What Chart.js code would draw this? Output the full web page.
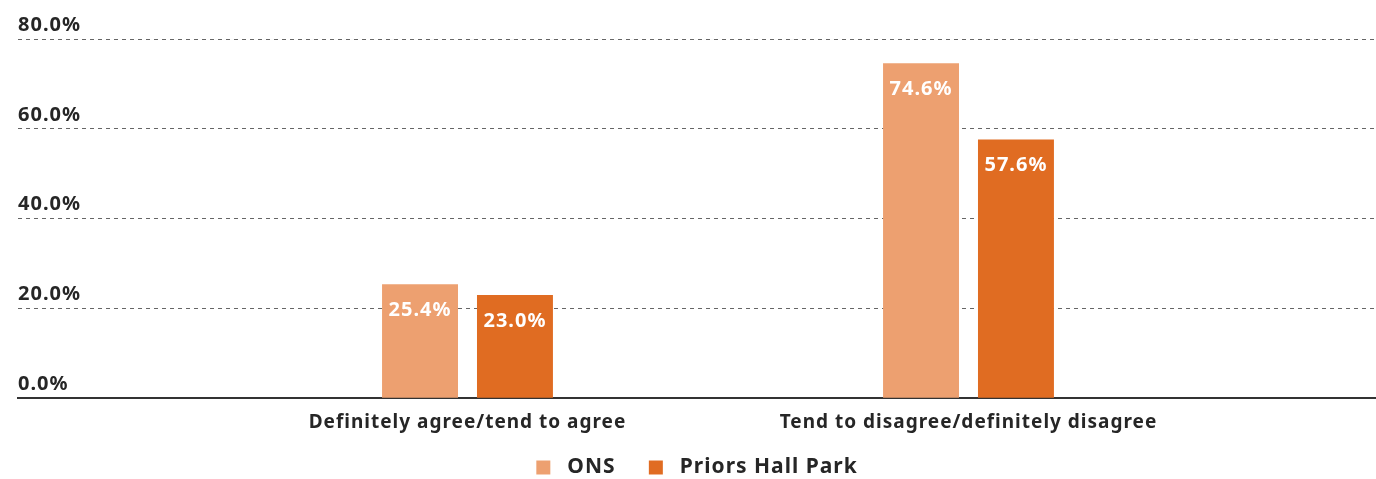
<!DOCTYPE html>
<html>
<head>
<meta charset="utf-8">
<script src="https://cdn.jsdelivr.net/npm/chart.js@4"></script>
<style>
  html, body { margin: 0; padding: 0; background: #fff; }
  #wrap { width: 1376px; height: 479px; }
</style>
</head>
<body>
<div id="wrap"><canvas id="surveyChart"></canvas></div>
<script>
// Data
const categories = ['Definitely agree/tend to agree', 'Tend to disagree/definitely disagree'];
const onsValues = [25.4, 74.6];
const priorsValues = [23.0, 57.6];
const yTicks = [0, 20, 40, 60, 80];

const FONT = "'Noto Sans', 'Open Sans', sans-serif";
Chart.defaults.font.family = FONT;
Chart.defaults.font.weight = 'bold';
Chart.defaults.color = '#262626';

// the original font is a bit wider than Noto Sans
const spacing = {
    id: 'spacing',
    beforeLayout(chart) { chart.ctx.letterSpacing = '1px'; },
    beforeDraw(chart) { chart.ctx.letterSpacing = '1px'; }
};

// Labels inside the bars
const barLabels = {
    id: 'barLabels',
    afterDatasetsDraw(chart) {
        const ctx = chart.ctx;
        ctx.save();
        ctx.fillStyle = '#ffffff';
        ctx.font = 'bold 20px ' + FONT;
        ctx.textAlign = 'center';
        ctx.textBaseline = 'middle';
        chart.data.datasets.forEach((ds, i) => {
            chart.getDatasetMeta(i).data.forEach((bar, j) => {
                ctx.fillText(ds.data[j].y.toFixed(1) + '%', bar.x, bar.y + 26);
            });
        });
        ctx.restore();
    }
};

const toPoints = vals => vals.map((v, i) => ({ x: i + 1, y: v }));

const ctx = document.getElementById('surveyChart').getContext('2d');
new Chart(ctx, {
    type: 'bar',
    data: {
        datasets: [{
            label: 'ONS',
            data: toPoints(onsValues),
            backgroundColor: '#eda070'
        }, {
            label: 'Priors Hall Park',
            data: toPoints(priorsValues),
            backgroundColor: '#e06c22'
        }]
    },
    options: {
        responsive: true,
        maintainAspectRatio: false,
        animation: false,
        barPercentage: 0.8,
        categoryPercentage: 0.379,
        layout: { padding: { left: 18, right: 0, top: 39, bottom: -9 } },
        plugins: {
            legend: {
                position: 'bottom',
                labels: {
                    boxWidth: 14,
                    boxHeight: 14,
                    padding: 1,
                    font: { size: 21, weight: 'bold' },
                    generateLabels: chart => Chart.defaults.plugins.legend.labels.generateLabels(chart)
                        .map((l, i) => ({ ...l, text: ' ' + l.text + (i === 0 ? '     ' : '') }))
                }
            },
            tooltip: { enabled: false }
        },
        scales: {
            x: {
                type: 'linear',
                offset: false,
                min: 0.1028,
                max: 2.8134,
                afterBuildTicks: s => { s.ticks = categories.map((c, i) => ({ value: i + 1 })); },
                afterFit: s => { s.height += 9; },
                grid: { display: false, drawTicks: false, offset: false },
                border: { display: true, color: '#333333', width: 2 },
                ticks: {
                    padding: 13,
                    maxRotation: 0,
                    autoSkip: false,
                    font: { size: 19, weight: 'bold' },
                    callback: v => categories[v - 1]
                }
            },
            y: {
                min: 0,
                max: 80,
                afterBuildTicks: s => { s.ticks = yTicks.map(v => ({ value: v })); },
                grid: {
                    color: '#666666',
                    lineWidth: 1,
                    drawTicks: false
                },
                border: { display: false, dash: [4, 4] },
                ticks: {
                    mirror: true,
                    padding: 0,
                    labelOffset: -14,
                    font: { size: 20, weight: 'bold' },
                    callback: v => v.toFixed(1) + '%'
                }
            }
        }
    },
    plugins: [spacing, barLabels]
});
</script>
</body>
</html>
